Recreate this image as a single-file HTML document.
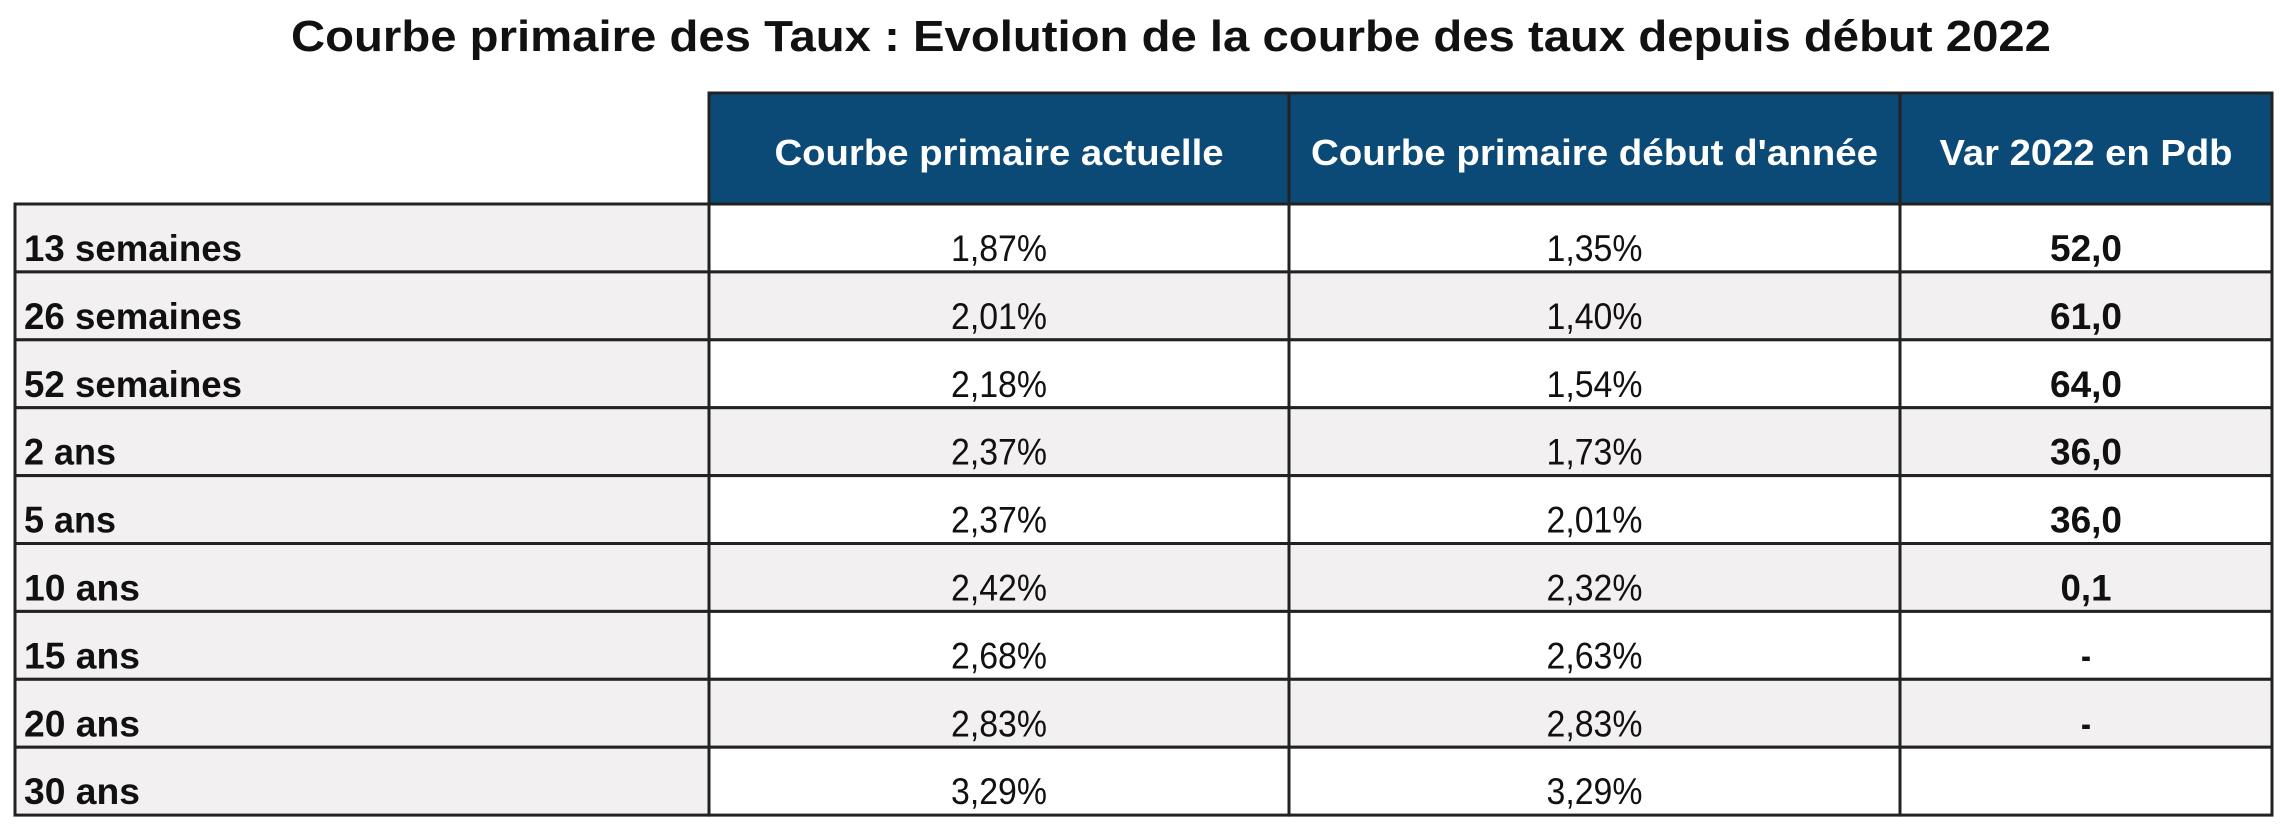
<!DOCTYPE html>
<html><head><meta charset="utf-8">
<style>
html,body{margin:0;padding:0;background:#fff;}
svg{display:block;}
text{font-family:"Liberation Sans Narrow","Liberation Sans",sans-serif;}
</style></head>
<body>
<svg id="chart" width="2296" height="840" viewBox="0 0 2296 840" xmlns="http://www.w3.org/2000/svg">
<text x="291" y="51" font-size="44" font-weight="bold" fill="#111" textLength="1760" lengthAdjust="spacingAndGlyphs">Courbe primaire des Taux : Evolution de la courbe des taux depuis début 2022</text>
</svg>
<script>
const maturities = ["13 semaines","26 semaines","52 semaines","2 ans","5 ans","10 ans","15 ans","20 ans","30 ans"];
const currentCurve = ["1,87%","2,01%","2,18%","2,37%","2,37%","2,42%","2,68%","2,83%","3,29%"];
const startCurve = ["1,35%","1,40%","1,54%","1,73%","2,01%","2,32%","2,63%","2,83%","3,29%"];
const varPdb = ["52,0","61,0","64,0","36,0","36,0","0,1","-","-",""];
const headers = ["Courbe primaire actuelle","Courbe primaire début d'année","Var 2022 en Pdb"];

const svg = document.getElementById('chart');
const NS = 'http://www.w3.org/2000/svg';
const cols = [15, 709, 1289, 1900, 2272];
const headTop = 93, rowTop = 204, rowH = 67.9;
const headW = [449, 567, 293];

function mk(tag, attrs, txt){
  const e = document.createElementNS(NS, tag);
  for (const k in attrs) e.setAttribute(k, attrs[k]);
  if (txt !== undefined) e.textContent = txt;
  svg.appendChild(e);
  return e;
}
function textW(s, bold){
  // approximate width of condensed glyphs
  let w = 0;
  for (const c of s){
    if (c === ',' ) w += 9;
    else if (c === '%') w += 30;
    else if (c === ' ') w += 9;
    else if (c === '-') w += 10;
    else w += bold ? 21 : 19;
  }
  return w;
}

// header cells
for (let i = 0; i < headers.length; i++){
  const r = mk('rect', {x: cols[i+1], y: headTop, width: cols[i+2]-cols[i+1], height: rowTop-headTop, fill: '#0b4a77', stroke: '#222', 'stroke-width': 3});
  
  
  const cx = (cols[i+1]+cols[i+2])/2;
  const t = mk('text', {x: cx, y: 165, 'text-anchor': 'middle', 'font-size': 36, 'font-weight': 'bold', fill: '#fff', textLength: headW[i], lengthAdjust: 'spacingAndGlyphs'}, headers[i]);
  
  
}

// rows
for (let r = 0; r < maturities.length; r++){
  const y = rowTop + r*rowH;
  const gray = r % 2 === 1;
  const lab = mk('rect', {x: cols[0], y: y, width: cols[1]-cols[0], height: rowH, fill: '#f2f0f0', stroke: '#222', 'stroke-width': 3});
  
  
  for (let c = 1; c < 4; c++){
    const cell = mk('rect', {x: cols[c], y: y, width: cols[c+1]-cols[c], height: rowH, fill: gray ? '#f2f0f0' : '#ffffff', stroke: '#222', 'stroke-width': 3});
    
    
  }
  const by = y + 57;
  const lw = maturities[r].includes('semaines') ? 218 : (maturities[r].length > 5 ? 116 : 92);
  const lt = mk('text', {x: 24, y: by, 'font-size': 37, 'font-weight': 'bold', fill: '#111', textLength: lw, lengthAdjust: 'spacingAndGlyphs'}, maturities[r]);
  
  
  const vals = [currentCurve[r], startCurve[r], varPdb[r]];
  for (let c = 0; c < 3; c++){
    const s = vals[c];
    if (!s) continue;
    const cx = (cols[c+1]+cols[c+2])/2;
    const bold = c === 2;
    const vt = mk('text', {x: cx, y: by, 'text-anchor': 'middle', 'font-size': 37, 'font-weight': bold ? 'bold' : 'normal', fill: '#111', textLength: textW(s, bold), lengthAdjust: 'spacingAndGlyphs'}, s);
    
    
  }
}
</script>
</body></html>
